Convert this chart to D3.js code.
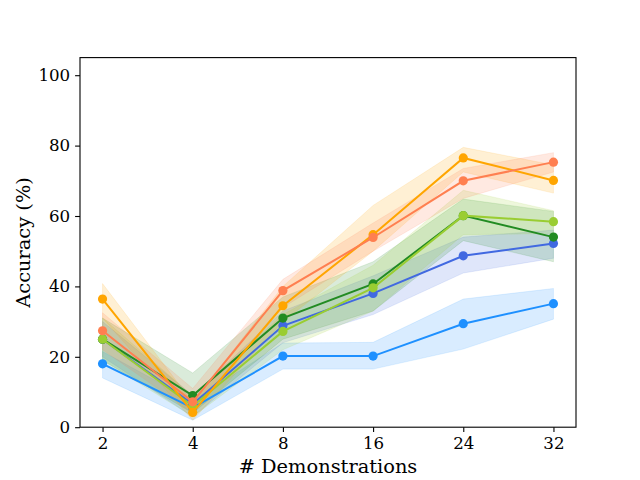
<!DOCTYPE html>
<html>
<head>
<meta charset="utf-8">
<script src="https://cdn.jsdelivr.net/npm/d3@7"></script>
<style>
  body { margin: 0; background: #fff; }
  svg { display: block; font-family: "DejaVu Serif", serif; }
</style>
</head>
<body>
<script>
// Tick labels for the categorical x axis
const demos = ["2", "4", "8", "16", "24", "32"];
const yTicks = [0, 20, 40, 60, 80, 100];

// Series colours, in draw order
const seriesColors = ["#1e90ff", "#4169e1", "#228b22", "#9acd32", "#ffa500", "#ff7f50"];

// Mean accuracy per series
const dodgerMean = [18.0, 5.5, 20.2, 20.2, 29.4, 35.1];
const royalMean = [25.0, 6.5, 28.8, 38.0, 48.7, 52.2];
const forestMean = [25.0, 9.0, 31.0, 40.7, 60.1, 54.0];
const yellowMean = [25.0, 6.0, 27.2, 39.6, 60.1, 58.4];
const orangeMean = [36.4, 4.2, 34.5, 54.7, 76.5, 70.1];
const coralMean = [27.4, 7.2, 38.8, 53.9, 70.0, 75.3];

// Shaded band bounds per series
const dodgerLo = [14.0, 2.0, 16.5, 16.5, 22.2, 30.7];
const dodgerHi = [21.5, 7.5, 23.9, 24.1, 36.4, 39.4];
const royalLo = [20.0, 3.0, 24.0, 32.0, 43.8, 48.0];
const royalHi = [30.0, 9.0, 33.0, 43.0, 54.0, 56.0];
const forestLo = [19.0, 4.0, 25.0, 33.0, 53.0, 47.0];
const forestHi = [31.0, 15.4, 37.0, 47.0, 64.8, 61.3];
const yellowLo = [19.0, 3.0, 22.0, 33.0, 54.7, 55.0];
const yellowHi = [31.0, 9.0, 32.0, 46.0, 67.3, 61.5];
const orangeLo = [31.0, 2.0, 30.0, 50.0, 72.5, 66.5];
const orangeHi = [40.8, 7.0, 40.0, 63.0, 79.5, 74.5];
const coralLo = [22.0, 4.0, 34.0, 50.0, 65.0, 72.5];
const coralHi = [32.5, 11.0, 42.0, 58.0, 73.5, 78.0];

const series = [
  { mean: dodgerMean, lo: dodgerLo, hi: dodgerHi },
  { mean: royalMean, lo: royalLo, hi: royalHi },
  { mean: forestMean, lo: forestLo, hi: forestHi },
  { mean: yellowMean, lo: yellowLo, hi: yellowHi },
  { mean: orangeMean, lo: orangeLo, hi: orangeHi },
  { mean: coralMean, lo: coralLo, hi: coralHi }
].map((s, i) => ({ ...s, color: seriesColors[i] }));

const width = 640, height = 480;
const margin = { top: 57.6, right: 64, bottom: 52.8, left: 80 };

const svg = d3.select("body").append("svg")
    .attr("width", width)
    .attr("height", height);

// categorical positions with matplotlib-like 5% margins
const x = d3.scaleLinear()
    .domain([-0.25, demos.length - 0.75])
    .range([margin.left, width - margin.right]);

const y = d3.scaleLinear()
    .domain([0, 105])
    .range([height - margin.bottom, margin.top]);

// Bands first
const area = d3.area()
    .x((d, i) => x(i))
    .y0(d => y(d[0]))
    .y1(d => y(d[1]));

svg.append("g")
    .selectAll("path")
    .data(series)
    .join("path")
    .attr("fill", d => d.color)
    .attr("fill-opacity", 0.17)
    .attr("stroke", d => d.color)
    .attr("stroke-opacity", 0.12)
    .attr("d", d => area(d.lo.map((v, i) => [v, d.hi[i]])));

// Lines with markers, one group per series
const line = d3.line()
    .x((d, i) => x(i))
    .y(d => y(d));

const g = svg.append("g")
    .selectAll("g")
    .data(series)
    .join("g");

g.append("path")
    .attr("fill", "none")
    .attr("stroke", d => d.color)
    .attr("stroke-width", 2)
    .attr("d", d => line(d.mean));

g.selectAll("circle")
    .data(d => d.mean.map((v, i) => ({ v, i, color: d.color })))
    .join("circle")
    .attr("cx", d => x(d.i))
    .attr("cy", d => y(d.v))
    .attr("r", 4.6)
    .attr("fill", d => d.color);

// Axes
const xAxis = d3.axisBottom(x)
    .tickValues(d3.range(demos.length))
    .tickFormat(i => demos[i])
    .tickSize(4.9)
    .tickPadding(4.9);

const yAxis = d3.axisLeft(y)
    .tickValues(yTicks)
    .tickSize(4.9)
    .tickPadding(4.9);

const gx = svg.append("g")
    .attr("transform", `translate(0,${height - margin.bottom})`)
    .call(xAxis);

const gy = svg.append("g")
    .attr("transform", `translate(${margin.left},0)`)
    .call(yAxis);

[gx, gy].forEach(a => {
  a.select(".domain").remove();
  a.selectAll("line").attr("stroke", "#000").attr("stroke-width", 1.1);
  a.selectAll("text")
      .attr("fill", "#000")
      .style("font-family", "DejaVu Serif, serif")
      .style("font-size", "16.67px");
});

// frame
svg.append("rect")
    .attr("x", margin.left)
    .attr("y", margin.top)
    .attr("width", width - margin.left - margin.right)
    .attr("height", height - margin.top - margin.bottom)
    .attr("fill", "none")
    .attr("stroke", "#000")
    .attr("stroke-width", 1.1);

// Axis labels
svg.append("text")
    .attr("x", (margin.left + width - margin.right) / 2)
    .attr("y", 473)
    .attr("text-anchor", "middle")
    .style("font-size", "19.4px")
    .text("# Demonstrations");

svg.append("text")
    .attr("transform", `translate(30,${(margin.top + height - margin.bottom) / 2}) rotate(-90)`)
    .attr("text-anchor", "middle")
    .style("font-size", "19.4px")
    .text("Accuracy (%)");
</script>
</body>
</html>
